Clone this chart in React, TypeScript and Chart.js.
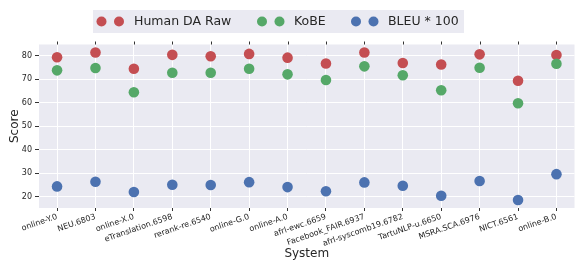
import React, { useEffect, useRef } from "react";
import { Chart, registerables } from "chart.js";

Chart.register(...registerables);

const systems = [
  "online-Y.0",
  "NEU.6803",
  "online-X.0",
  "eTranslation.6598",
  "rerank-re.6540",
  "online-G.0",
  "online-A.0",
  "afrl-ewc.6659",
  "Facebook_FAIR.6937",
  "afrl-syscomb19.6782",
  "TartuNLP-u.6650",
  "MSRA.SCA.6976",
  "NICT.6561",
  "online-B.0",
];

const humanDaRaw = [79.4, 81.4, 74.5, 80.4, 79.8, 80.8, 79.2, 76.7, 81.4, 76.9, 76.3, 80.6, 69.4, 80.3];
const kobe = [73.8, 74.8, 64.5, 72.8, 72.8, 74.5, 72.1, 69.7, 75.5, 71.7, 65.3, 74.9, 59.8, 76.6];
const bleu100 = [24.4, 26.4, 22.0, 25.1, 25.0, 26.2, 24.1, 22.3, 26.1, 24.7, 20.4, 26.7, 18.6, 29.6];

const seriesNames = ["Human DA Raw", "KoBE", "BLEU * 100"];
const seriesColors = ["#c44e52", "#55a868", "#4c72b0"];

const FONT = "'DejaVu Sans', sans-serif";
const TEXT = "#262626";

const legendPlugin = {
  id: "dotLegend",
  afterDraw(chart: any) {
    const ctx = chart.ctx;
    ctx.save();
    ctx.fillStyle = "#eaeaf2";
    ctx.fillRect(93, 10, 371, 23);
    const items = [
      { x: 101.5, tx: 134 },
      { x: 262, tx: 294 },
      { x: 356, tx: 388 },
    ];
    const cy = 21.5;
    items.forEach((it, i) => {
      ctx.fillStyle = seriesColors[i];
      [it.x, it.x + 17.5].forEach((px) => {
        ctx.beginPath();
        ctx.arc(px, cy, 5, 0, Math.PI * 2);
        ctx.fill();
      });
      ctx.fillStyle = TEXT;
      ctx.font = `12.5px ${FONT}`;
      ctx.textBaseline = "middle";
      ctx.textAlign = "left";
      ctx.fillText(seriesNames[i], it.tx, cy + 0.5);
    });
    ctx.restore();
  },
};

const bgPlugin = {
  id: "plotBg",
  beforeDraw(chart: any) {
    const { ctx, chartArea } = chart;
    ctx.save();
    ctx.fillStyle = "#eaeaf2";
    ctx.fillRect(chartArea.left, chartArea.top, chartArea.right - chartArea.left, chartArea.bottom - chartArea.top);
    ctx.restore();
  },
  afterDraw(chart: any) {
    const { ctx, chartArea } = chart;
    const xs = chart.scales.x;
    ctx.save();
    ctx.strokeStyle = "#333333";
    ctx.lineWidth = 1;
    systems.forEach((_, i) => {
      const px = Math.round(xs.getPixelForValue(i)) + 0.5;
      ctx.beginPath();
      ctx.moveTo(px, chartArea.top - 3);
      ctx.lineTo(px, chartArea.top);
      ctx.stroke();
    });
    ctx.restore();
  },
};

export default function App() {
  const ref = useRef<HTMLCanvasElement | null>(null);

  useEffect(() => {
    if (!ref.current) return;
    const all = [humanDaRaw, kobe, bleu100];
    const chart = new Chart(ref.current, {
      type: "scatter",
      data: {
        datasets: all.map((vals, i) => ({
          label: seriesNames[i],
          data: vals.map((v, j) => ({ x: j, y: v })),
          backgroundColor: seriesColors[i],
          borderWidth: 0,
          pointRadius: 5.3,
          order: 3 - i,
        })),
      },
      options: {
        animation: false,
        responsive: false,
        devicePixelRatio: 1,
        layout: { autoPadding: false, padding: { top: 44.5, right: 1.5, left: 0, bottom: 0 } },
        plugins: { legend: { display: false }, tooltip: { enabled: false } },
        scales: {
          x: {
            type: "linear",
            min: -0.47,
            max: 13.47,
            afterFit: (s: any) => {
              s.height = 53;
            },
            border: { display: false },
            grid: { color: "#ffffff", lineWidth: 1, tickLength: 3, tickColor: "#333333" },
            ticks: {
              stepSize: 1,
              includeBounds: false,
              autoSkip: false,
              minRotation: 19,
              maxRotation: 19,
              padding: 1,
              color: TEXT,
              font: { family: FONT, size: 8 },
              callback: (v: any) => (Number.isInteger(v) ? systems[v] : ""),
            },
            title: { display: true, text: "System", color: TEXT, font: { family: FONT, size: 12 }, padding: 0 },
          },
          y: {
            min: 15.2,
            max: 84.8,
            afterFit: (s: any) => {
              s.width = 39;
            },
            border: { display: false },
            grid: { color: "#ffffff", lineWidth: 1, tickLength: 4, tickColor: "#333333" },
            ticks: {
              stepSize: 10,
              includeBounds: false,
              padding: 3,
              color: TEXT,
              font: { family: FONT, size: 8 },
            },
            title: { display: true, text: "Score", color: TEXT, font: { family: FONT, size: 12 }, padding: { top: 8, bottom: 0 } },
          },
        },
      },
      plugins: [bgPlugin, legendPlugin],
    } as any);
    return () => chart.destroy();
  }, []);

  return (
    <div style={{ position: "fixed", left: 0, top: 0, width: 576, height: 261, background: "#ffffff" }}>
      <canvas ref={ref} width={576} height={261} style={{ width: 576, height: 261, display: "block" }} />
    </div>
  );
}
